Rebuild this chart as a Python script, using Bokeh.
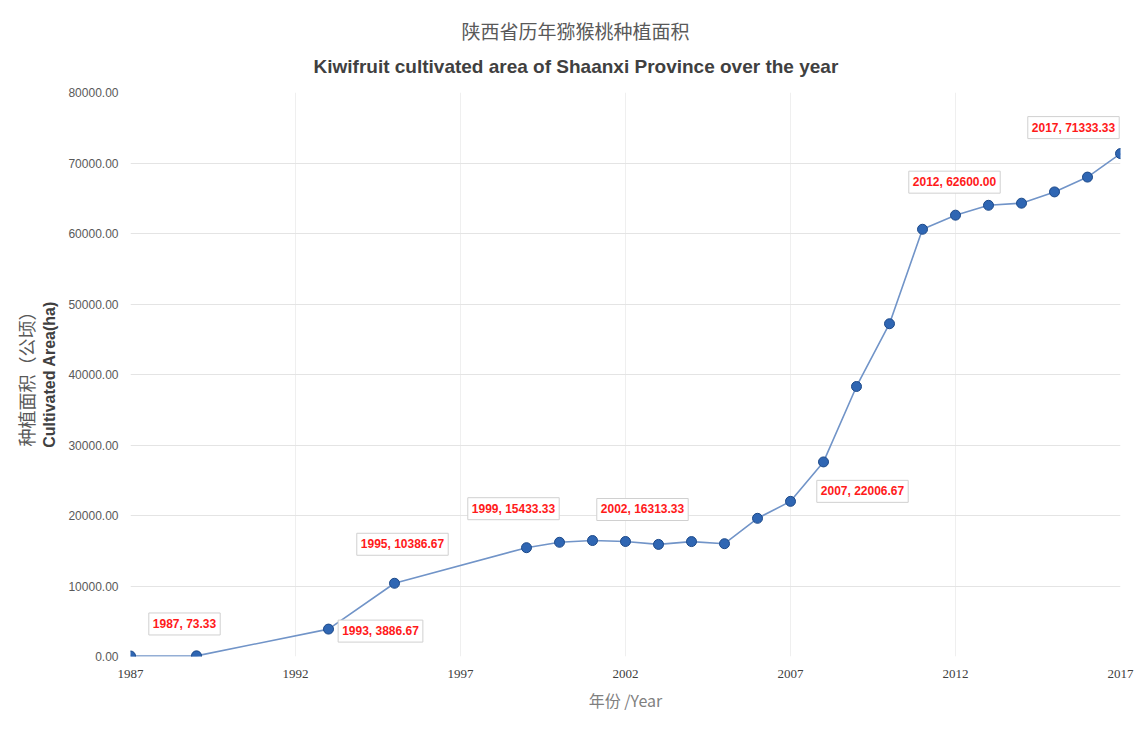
from bokeh.plotting import figure
from bokeh.models import (ColumnDataSource, FixedTicker, NumeralTickFormatter,
                          LinearAxis, Title, Label)
from bokeh.embed import file_html
from bokeh.resources import INLINE

# Kiwifruit cultivated area in Shaanxi Province (hectares)
years = [1987, 1989, 1993, 1995, 1999, 2000, 2001, 2002, 2003, 2004, 2005,
         2006, 2007, 2008, 2009, 2010, 2011, 2012, 2013, 2014, 2015, 2016, 2017]
area_ha = [73.33, 90.0, 3886.67, 10386.67, 15433.33, 16200.0, 16450.0,
           16313.33, 15900.0, 16300.0, 16000.0, 19600.0, 22006.67, 27600.0,
           38300.0, 47200.0, 60600.0, 62600.0, 64000.0, 64300.0, 65900.0,
           68000.0, 71333.33]

# years whose values get a callout
labelled_years = [1987, 1993, 1995, 1999, 2002, 2007, 2012, 2017]

x_ticks = [1987, 1992, 1997, 2002, 2007, 2012, 2017]
y_ticks = [0, 10000, 20000, 30000, 40000, 50000, 60000, 70000, 80000]

# pixel offsets of each callout box from its point
callout_offsets = [(54, 32), (52, -2), (8, 39), (-13, 39), (17, 32),
                   (72, 10), (-1, 33), (-47, 26)]

src = ColumnDataSource(data=dict(year=years, area=area_ha))

p = figure(width=1134, height=729, output_backend="svg", toolbar_location=None,
           x_range=(1987, 2017), y_range=(0, 80000),
           min_border_left=130, min_border_right=14, min_border_bottom=73,
           min_border_top=92)
p.background_fill_color = "white"
p.border_fill_color = "white"
p.outline_line_color = None

# titles (first added sits next to the plot area), left-aligned with an
# offset so they sit centred on the page rather than on the plot area
p.add_layout(Title(text="Kiwifruit cultivated area of Shaanxi Province over the year",
                   align="left", offset=183, text_font="Liberation Sans",
                   text_font_size="19px", text_font_style="bold",
                   text_color="#404040", standoff=32), "above")
p.add_layout(Title(text="陕西省历年猕猴桃种植面积", align="left", offset=331,
                   text_font="Noto Sans CJK SC", text_font_size="19px",
                   text_font_style="normal", text_color="#595959", standoff=-12), "above")

# grid
p.xgrid.ticker = FixedTicker(ticks=x_ticks)
p.ygrid.ticker = FixedTicker(ticks=y_ticks)
p.xgrid.grid_line_color = "#efefef"
p.ygrid.grid_line_color = "#e4e4e4"

# x axis
p.xaxis.ticker = FixedTicker(ticks=x_ticks)
p.xaxis.axis_line_color = None
p.xaxis.major_tick_line_color = None
p.xaxis.minor_tick_line_color = None
p.xaxis.major_label_standoff = 7
p.xaxis.major_label_text_font = "Liberation Serif"
p.xaxis.major_label_text_font_size = "13px"
p.xaxis.major_label_text_color = "#404040"
p.xaxis.axis_label = "年份 /Year"
p.xaxis.axis_label_text_font = "Noto Sans CJK SC"
p.xaxis.axis_label_text_font_style = "normal"
p.xaxis.axis_label_text_font_size = "16px"
p.xaxis.axis_label_text_color = "#7f7f7f"
p.xaxis.axis_label_standoff = 7

# y axis
p.yaxis.ticker = FixedTicker(ticks=y_ticks)
p.yaxis.formatter = NumeralTickFormatter(format="0.00")
p.yaxis.axis_line_color = None
p.yaxis.major_tick_line_color = None
p.yaxis.minor_tick_line_color = None
p.yaxis.major_label_standoff = 6
p.yaxis.major_label_text_font = "Liberation Sans"
p.yaxis.major_label_text_font_size = "12px"
p.yaxis.major_label_text_color = "#595959"
p.yaxis.axis_label = "Cultivated Area(ha)"
p.yaxis.axis_label_text_font = "Liberation Sans"
p.yaxis.axis_label_text_font_style = "bold"
p.yaxis.axis_label_text_font_size = "16px"
p.yaxis.axis_label_text_color = "#404040"
p.yaxis.axis_label_standoff = 7

cn_axis = LinearAxis(ticker=FixedTicker(ticks=[]), axis_label="种植面积（公顷）",
                     axis_line_color=None, major_tick_line_color=None,
                     minor_tick_line_color=None, major_label_text_font_size="0px",
                     axis_label_text_font="Noto Sans CJK SC",
                     axis_label_text_font_style="normal",
                     axis_label_text_font_size="18px",
                     axis_label_text_color="#595959", axis_label_standoff=0)
p.add_layout(cn_axis, "left")

# series
p.line("year", "area", source=src, line_color="#7194c8", line_width=1.6)
p.scatter("year", "area", source=src, size=10, fill_color="#2f66b3",
          line_color="#1d4a8a", line_width=1)

# value callouts
for yr, (dx, dy) in zip(labelled_years, callout_offsets):
    v = area_ha[years.index(yr)]
    p.add_layout(Label(x=yr, y=v, x_offset=dx, y_offset=dy,
                       text=f"{yr}, {v:.2f}", text_align="center",
                       text_baseline="middle", text_font="Liberation Sans",
                       text_font_size="12px", text_font_style="bold",
                       text_color="#ff1a1a", background_fill_color="white",
                       border_line_color="#d0d0d0", border_line_width=1,
                       padding=4))

open("out.html", "w").write(file_html(p, INLINE))
